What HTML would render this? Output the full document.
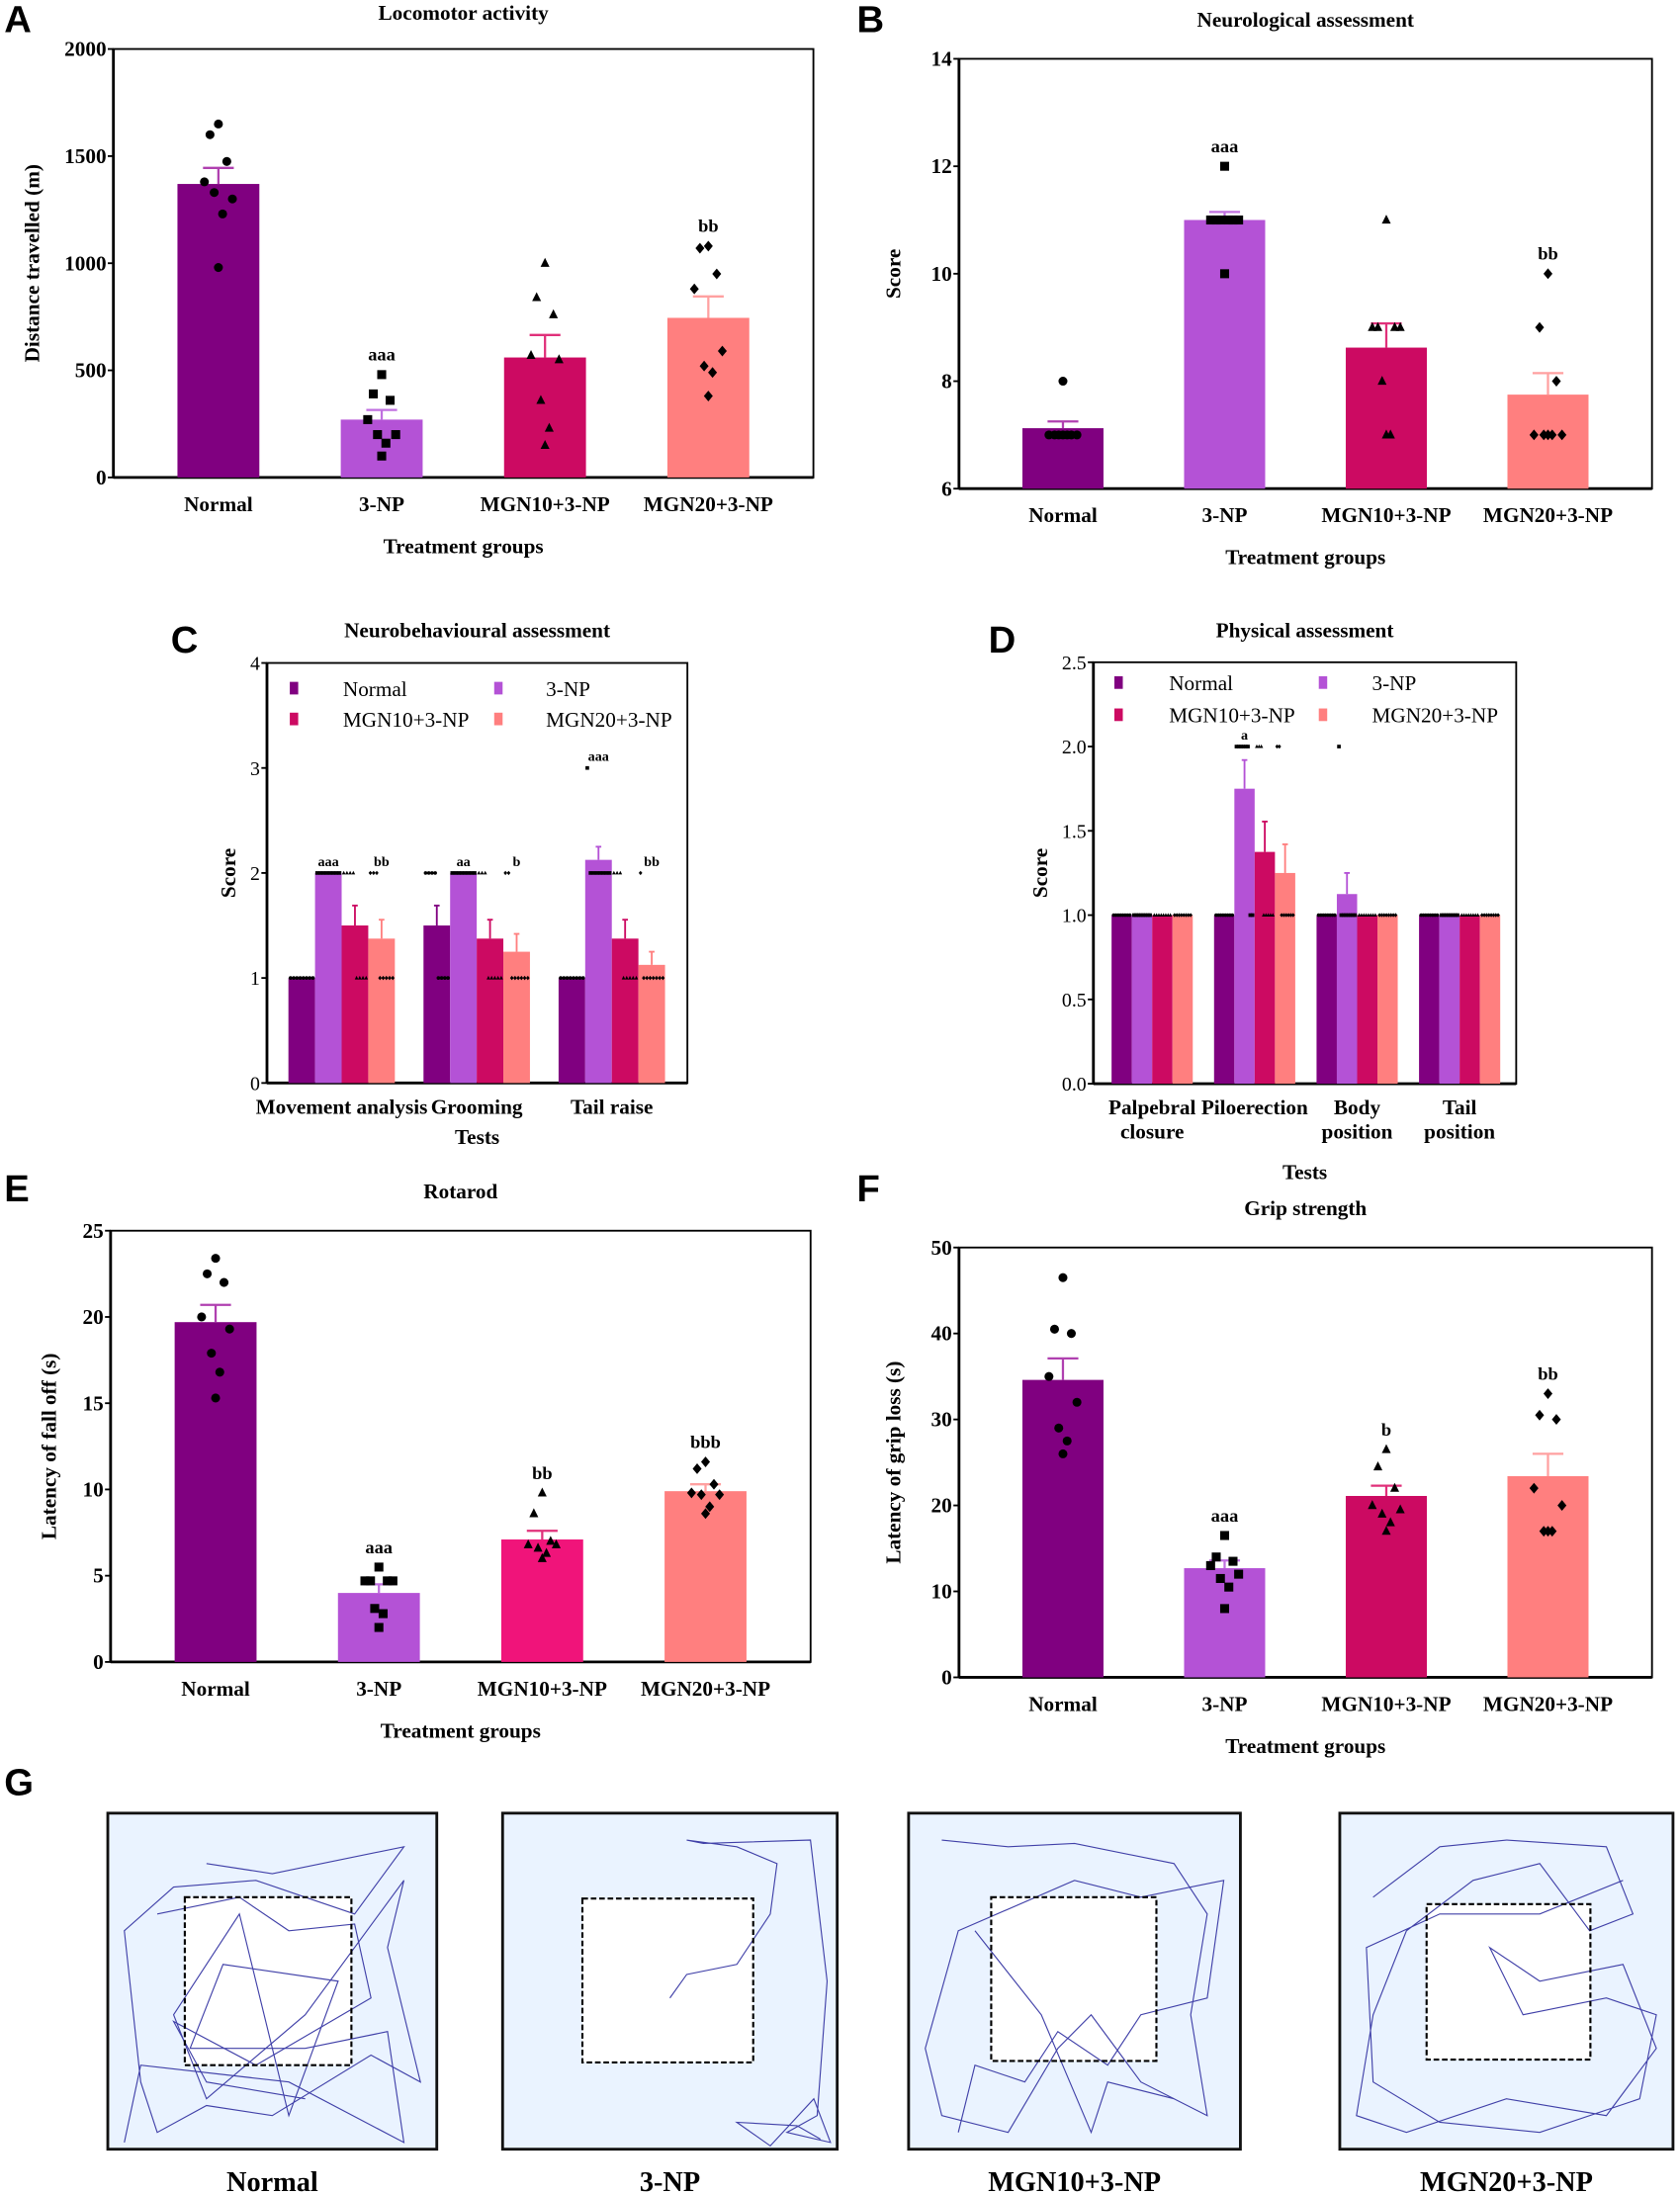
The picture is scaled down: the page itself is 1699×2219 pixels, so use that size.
<!DOCTYPE html>
<html><head><meta charset="utf-8">
<style>
html,body{margin:0;padding:0;background:#fff;}
svg{display:block;}
text{font-family:"Liberation Serif",serif;}
.pl{font-family:"Liberation Sans",sans-serif;font-weight:bold;font-size:27px;}
.tt{font-weight:bold;font-size:15px;}
.tk{font-weight:bold;font-size:15px;}
.ck{font-size:14px;}
</style></head>
<body>
<svg id="fig" width="1699" height="2219" viewBox="0 0 1200 1567" preserveAspectRatio="none" xmlns="http://www.w3.org/2000/svg">
<text class="pl" x="3" y="23">A</text>
<text class="pl" x="612" y="23">B</text>
<text class="pl" x="122" y="466">C</text>
<text class="pl" x="706" y="466">D</text>
<text class="pl" x="3" y="858">E</text>
<text class="pl" x="612" y="858">F</text>
<text class="pl" x="3" y="1282">G</text>
</svg>
<script>
// ---------- DATA ----------
const groups = ["Normal","3-NP","MGN10+3-NP","MGN20+3-NP"];
// Panel A
const aMeans = [1370, 270, 560, 745];
const aSE = [75, 45, 105, 100];
const aPoints = [[1650,1600,1475,1380,1300,1330,1230,980],[480,390,360,270,200,200,160,100],[1000,840,760,570,550,360,230,150],[1080,1070,950,880,590,520,490,380]];
const aSig = ["","aaa","","bb"];
const aTicks = [0,500,1000,1500,2000];
// Panel B
const bMeans = [7.125, 11, 8.625, 7.75];
const bSE = [0.125, 0.15, 0.45, 0.4];
const bPoints = [[8,7,7,7,7,7,7,7],[12,11,11,11,11,11,11,10],[11,9,9,9,9,8,7,7],[10,9,8,7,7,7,7,7]];
const bSig = ["","aaa","","bb"];
const bTicks = [6,8,10,12,14];
// Panel C
const cTests = ["Movement analysis","Grooming","Tail raise"];
const cMeans = [[1,2,1.5,1.375],[1.5,2,1.375,1.25],[1,2.125,1.375,1.125]];
const cSE = [[0,0,0.19,0.18],[0.19,0,0.18,0.17],[0,0.125,0.18,0.125]];
const cScores = [
 [[1,1,1,1,1,1,1,1],[2,2,2,2,2,2,2,2],[2,2,2,2,1,1,1,1],[2,2,2,1,1,1,1,1]],
 [[2,2,2,2,1,1,1,1],[2,2,2,2,2,2,2,2],[2,2,2,1,1,1,1,1],[2,2,1,1,1,1,1,1]],
 [[1,1,1,1,1,1,1,1],[3,2,2,2,2,2,2,2],[2,2,2,1,1,1,1,1],[2,1,1,1,1,1,1,1]]];
const cSig = [["","aaa","","bb"],["","aa","","b"],["","aaa","","bb"]];
const cTicks = [0,1,2,3,4];
// Panel D
const dTests = [["Palpebral","closure"],["Piloerection",""],["Body","position"],["Tail","position"]];
const dMeans = [[1,1,1,1],[1,1.75,1.375,1.25],[1,1.125,1,1],[1,1,1,1]];
const dSE = [[0,0,0,0],[0,0.17,0.18,0.17],[0,0.125,0,0],[0,0,0,0]];
const dScores = [
 [[1,1,1,1,1,1,1,1],[1,1,1,1,1,1,1,1],[1,1,1,1,1,1,1,1],[1,1,1,1,1,1,1,1]],
 [[1,1,1,1,1,1,1,1],[2,2,2,2,2,2,1,1],[2,2,2,1,1,1,1,1],[2,2,1,1,1,1,1,1]],
 [[1,1,1,1,1,1,1,1],[2,1,1,1,1,1,1,1],[1,1,1,1,1,1,1,1],[1,1,1,1,1,1,1,1]],
 [[1,1,1,1,1,1,1,1],[1,1,1,1,1,1,1,1],[1,1,1,1,1,1,1,1],[1,1,1,1,1,1,1,1]]];
const dSig = [["","","",""],["","a","",""],["","","",""],["","","",""]];
const dTicks = [0,0.5,1,1.5,2,2.5];
// Panel E
const eMeans = [19.7, 4.0, 7.1, 9.9];
const eSE = [1.0, 0.5, 0.5, 0.4];
const ePoints = [[23.4,22.5,22,20,19.3,17.9,16.8,15.3],[5.5,4.7,4.7,4.7,4.7,3.1,2.8,2.0],[9.8,8.6,7.0,6.8,6.8,6.6,6.3,6.0],[11.6,11.2,10.3,9.8,9.7,9.7,9.0,8.6]];
const eSig = ["","aaa","bb","bbb"];
const eTicks = [0,5,10,15,20,25];
// Panel F
const fMeans = [34.6, 12.7, 21.1, 23.4];
const fSE = [2.5, 0.9, 1.2, 2.6];
const fPoints = [[46.5,40.5,40,35,32,29,27.5,26],[16.5,14,13.5,13,12,11.5,10.5,8],[26.5,24.5,22,20,19.5,19,18,17],[33,30.5,30,22,20,17,17,17]];
const fSig = ["","aaa","b","bb"];
const fTicks = [0,10,20,30,40,50];

// ---------- HELPERS ----------
const NS="http://www.w3.org/2000/svg";
const svg=document.getElementById('fig');
function mk(tag,attrs,parent,txt){const e=document.createElementNS(NS,tag);for(const k in attrs)e.setAttribute(k,attrs[k]);if(txt!==undefined)e.textContent=txt;(parent||svg).appendChild(e);return e;}
const COLORS=["#800080","#b452d6","#cc0a62","#ff7f7f"];
const ERRC=["#b040b0","#c070e0","#e0307a","#ffa0a0"];
const SHAPES=["circle","square","tri","diamond"];
function marker(g,shape,x,y,s){
  let e;
  if(shape==="circle") e=mk('circle',{cx:x,cy:y,r:s,fill:'#000'},g);
  else if(shape==="square") e=mk('rect',{x:x-s,y:y-s,width:2*s,height:2*s,fill:'#000'},g);
  else if(shape==="tri") e=mk('polygon',{points:`${x},${y-s*1.2} ${x-s},${y+s*0.8} ${x+s},${y+s*0.8}`,fill:'#000'},g);
  else e=mk('polygon',{points:`${x},${y-s*1.2} ${x+s},${y} ${x},${y+s*1.2} ${x-s},${y}`,fill:'#000'},g);
  
  
}
const JIT=[0,-6,6,-10,10,-3,3,0];
function axesFrame(g,x0,x1,y0,y1){
  const r=mk('rect',{x:x0,y:y0,width:x1-x0,height:y1-y0,fill:'none',stroke:'#000','stroke-width':1.3},g);
  
  mk('line',{x1:x0,y1:y0,x2:x0,y2:y1,stroke:'#000','stroke-width':2},g);
  mk('line',{x1:x0,y1:y1,x2:x1,y2:y1,stroke:'#000','stroke-width':2},g);
}
function yAxis(g,x0,ys,ticks,fmt,cls){
  ticks.forEach(t=>{const y=ys(t);
    mk('line',{x1:x0-4,y1:y,x2:x0,y2:y,stroke:'#000','stroke-width':1.3},g);
    const tx=mk('text',{x:x0-5,y:y+5,'text-anchor':'end','class':cls},g,fmt(t));
    });
}
function barPanel(name,P,means,se,points,sig,ticks,ymin,ymax,colors){
  const g=mk('g',{});
  const ys=v=>P.y1-(v-ymin)/(ymax-ymin)*(P.y1-P.y0);
  const W=P.x1-P.x0;const bw=0.117*W;
  const cx=i=>P.x0+W*(0.15+i*0.2333);
  axesFrame(g,P.x0,P.x1,P.y0,P.y1);
  yAxis(g,P.x0,ys,ticks,t=>String(t),'tk');
  means.forEach((m,i)=>{
    const c=cx(i);
    const b=mk('rect',{x:c-bw/2,y:ys(m),width:bw,height:ys(ymin)-ys(m),fill:colors[i]},g);
    
    
    const top=ys(m+se[i]);
    mk('line',{x1:c,y1:ys(m),x2:c,y2:top,stroke:ERRC[i],'stroke-width':1.6},g);
    mk('line',{x1:c-11,y1:top,x2:c+11,y2:top,stroke:ERRC[i],'stroke-width':1.6},g);
    points[i].forEach((p,k)=>marker(g,SHAPES[i],c+JIT[k],ys(p),3.2));
    if(sig[i]){const mx=Math.max(...points[i],m+se[i]);
      const s=mk('text',{x:c,y:ys(mx)-10,'text-anchor':'middle','font-size':13,'font-weight':'bold'},g,sig[i]);
      }
    const lb=mk('text',{x:c,y:P.y1+24,'text-anchor':'middle','class':'tk'},g,groups[i]);
    
  });
  const t=mk('text',{x:(P.x0+P.x1)/2,y:P.ty,'text-anchor':'middle','class':'tt'},g,P.title);
  
  const xt=mk('text',{x:(P.x0+P.x1)/2,y:P.y1+54,'text-anchor':'middle','class':'tt'},g,'Treatment groups');
  
  const yc=(P.y0+P.y1)/2;
  const yt=mk('text',{x:P.ylx,y:yc,'text-anchor':'middle','class':'tt',transform:`rotate(-90 ${P.ylx} ${yc})`},g,P.ylab);
  
}
function groupPanel(name,P,tests,means,se,scores,sig,ticks,ymax,fmt){
  const g=mk('g',{});
  const ys=v=>P.y1-v/ymax*(P.y1-P.y0);
  const W=P.x1-P.x0;const bw=P.bw*W;
  axesFrame(g,P.x0,P.x1,P.y0,P.y1);
  yAxis(g,P.x0,ys,ticks,fmt,'ck');
  tests.forEach((tname,gi)=>{
    const gx=P.x0+W*(P.start+gi*P.gsp);
    means[gi].forEach((m,i)=>{
      const x=gx+i*bw;const c=x+bw/2;
      const b=mk('rect',{x:x,y:ys(m),width:bw,height:ys(0)-ys(m),fill:COLORS[i]},g);
      
      
      if(se[gi][i]>0){const top=ys(m+se[gi][i]);
        mk('line',{x1:c,y1:ys(m),x2:c,y2:top,stroke:COLORS[i],'stroke-width':1.3},g);
        mk('line',{x1:c-2,y1:top,x2:c+2,y2:top,stroke:COLORS[i],'stroke-width':1.3},g);}
      scores[gi][i].forEach((s,k)=>{const px=x+1.5+k*(bw-3)/7;marker(g,SHAPES[i],px,ys(s),1.3);});
      if(sig[gi][i]){const mx=Math.max(...scores[gi][i]);
        const s=mk('text',{x:c,y:ys(mx)-5,'text-anchor':'middle','font-size':10,'font-weight':'bold'},g,sig[gi][i]);
        }
    });
    const lc=gx+2*bw;
    const l1=mk('text',{x:lc,y:P.y1+22,'text-anchor':'middle','class':'tk','font-size':14},g,Array.isArray(tname)?tname[0]:tname);
    
    if(Array.isArray(tname)&&tname[1]){const l2=mk('text',{x:lc,y:P.y1+39,'text-anchor':'middle','class':'tk','font-size':14},g,tname[1]);
      }
  });
  // legend
  const lg=mk('g',{},g);
  groups.forEach((gr,i)=>{
    const col=i%2,row=Math.floor(i/2);
    const sx=P.lx[col],sy=P.ly[row];
    mk('rect',{x:sx-3,y:sy-5,width:6,height:9,fill:COLORS[i]},lg);
    const t=mk('text',{x:P.tx[col],y:sy+5,'font-size':15},lg,gr);
    
  });
  const t=mk('text',{x:(P.x0+P.x1)/2,y:P.ty,'text-anchor':'middle','class':'tt'},g,P.title);
  
  const xt=mk('text',{x:(P.x0+P.x1)/2,y:P.xty,'text-anchor':'middle','class':'tt','font-size':14},g,'Tests');
  
  const yc=(P.y0+P.y1)/2;
  const yt=mk('text',{x:P.ylx,y:yc,'text-anchor':'middle','class':'tt','font-size':14,transform:`rotate(-90 ${P.ylx} ${yc})`},g,'Score');
  
}

barPanel('chart-locomotor-activity',{x0:81,x1:581,y0:35,y1:341,ty:14,ylx:28,title:'Locomotor activity',ylab:'Distance travelled (m)'},aMeans,aSE,aPoints,aSig,aTicks,0,2000,COLORS);
barPanel('chart-neurological-assessment',{x0:685,x1:1180,y0:42,y1:349,ty:19,ylx:643,title:'Neurological assessment',ylab:'Score'},bMeans,bSE,bPoints,bSig,bTicks,6,14,COLORS);
groupPanel('chart-neurobehavioural-assessment',{x0:190.7,x1:491,y0:473.5,y1:773.5,bw:0.0633,start:0.051,gsp:0.3213,ty:455,xty:817,ylx:168,lx:[210,356],ly:[492,514],tx:[245,390],title:'Neurobehavioural assessment'},cTests,cMeans,cSE,cScores,cSig,cTicks,4,t=>String(t));
groupPanel('chart-physical-assessment',{x0:781,x1:1083,y0:473,y1:774,bw:0.048,start:0.043,gsp:0.2424,ty:455,xty:842,ylx:748,lx:[799,945],ly:[488,511],tx:[835,980],title:'Physical assessment'},dTests,dMeans,dSE,dScores,dSig,dTicks,2.5,t=>t.toFixed(1));
barPanel('chart-rotarod',{x0:79,x1:579,y0:879,y1:1187,ty:856,ylx:40,title:'Rotarod',ylab:'Latency of fall off (s)'},eMeans,eSE,ePoints,eSig,eTicks,0,25,["#800080","#b452d6","#f0147a","#ff7f7f"]);
barPanel('chart-grip-strength',{x0:685,x1:1180,y0:891,y1:1198,ty:868,ylx:643,title:'Grip strength',ylab:'Latency of grip loss (s)'},fMeans,fSE,fPoints,fSig,fTicks,0,50,COLORS);

// ---------- PANEL G: open-field tracks ----------
const fieldLabels=["Normal","3-NP","MGN10+3-NP","MGN20+3-NP"];
const fieldBoxes=[[77,1295,312,1535],[359,1295,598,1535],[649,1295,886,1535],[957,1295,1195,1535]];
const innerBoxes=[[132,1355,251,1475],[416,1356,538,1473],[708,1355,826,1472],[1019,1360,1136,1471]];
const tracks=[
 ["0.3,0.15 0.5,0.18 0.9,0.1 0.75,0.3 0.6,0.25 0.45,0.2 0.2,0.22 0.05,0.35 0.1,0.8 0.15,0.95 0.3,0.87 0.5,0.9 0.8,0.72 0.95,0.8 0.85,0.4 0.9,0.2 0.6,0.6 0.3,0.85 0.2,0.6 0.4,0.3 0.55,0.9 0.7,0.5 0.35,0.45 0.25,0.7 0.6,0.7 0.85,0.65 0.9,0.98 0.55,0.8 0.1,0.75 0.05,0.98","0.15,0.3 0.4,0.25 0.55,0.35 0.75,0.33 0.8,0.55 0.45,0.75 0.2,0.62 0.3,0.8 0.6,0.85"],
 ["0.5,0.55 0.55,0.48 0.7,0.45 0.8,0.3 0.82,0.15 0.7,0.1 0.55,0.08 0.6,0.09 0.92,0.08 0.97,0.5 0.94,0.9 0.85,0.95 0.98,0.98 0.93,0.85 0.8,0.99 0.7,0.92 0.88,0.93 0.95,0.97"],
 ["0.1,0.08 0.3,0.1 0.5,0.09 0.8,0.15 0.9,0.3 0.85,0.6 0.9,0.9 0.7,0.8 0.55,0.6 0.45,0.7 0.3,0.95 0.1,0.9 0.05,0.7 0.15,0.35 0.5,0.2 0.7,0.25 0.95,0.2 0.9,0.55 0.7,0.6 0.6,0.75 0.45,0.65 0.35,0.8 0.2,0.75 0.15,0.95","0.2,0.35 0.4,0.6 0.55,0.95 0.6,0.8 0.8,0.85"],
 ["0.1,0.25 0.3,0.1 0.5,0.08 0.8,0.1 0.88,0.3 0.75,0.35 0.6,0.15 0.4,0.2 0.2,0.35 0.1,0.6 0.05,0.9 0.2,0.95 0.5,0.85 0.8,0.9 0.95,0.7 0.85,0.45 0.6,0.5 0.45,0.4 0.55,0.6 0.8,0.55 0.95,0.6 0.9,0.85 0.6,0.95 0.3,0.92 0.1,0.8 0.08,0.4 0.3,0.3 0.6,0.3 0.85,0.2"]
];
fieldBoxes.forEach((b,i)=>{
  const g=mk('g',{});
  const w=b[2]-b[0],h=b[3]-b[1];
  mk('rect',{x:b[0],y:b[1],width:w,height:h,fill:'#eaf3ff',stroke:'#111','stroke-width':2},g);
  const ib=innerBoxes[i];
  mk('rect',{x:ib[0],y:ib[1],width:ib[2]-ib[0],height:ib[3]-ib[1],fill:'#fff',stroke:'none'},g);
  tracks[i].forEach(tr=>{
    const pts=tr.split(' ').map(p=>{const [u,v]=p.split(',').map(Number);return (b[0]+u*w).toFixed(1)+','+(b[1]+v*h).toFixed(1);}).join(' ');
    const pl=mk('polyline',{points:pts,fill:'none',stroke:'#4040a8','stroke-width':0.8},g);
    
  });
  const ir=mk('rect',{x:ib[0],y:ib[1],width:ib[2]-ib[0],height:ib[3]-ib[1],fill:'none',stroke:'#000','stroke-width':1.5,'stroke-dasharray':'4,2'},g);
  
  const t=mk('text',{x:(b[0]+b[2])/2,y:1565,'text-anchor':'middle','font-weight':'bold','font-size':20},g,fieldLabels[i]);
  
});
</script>
</body></html>
